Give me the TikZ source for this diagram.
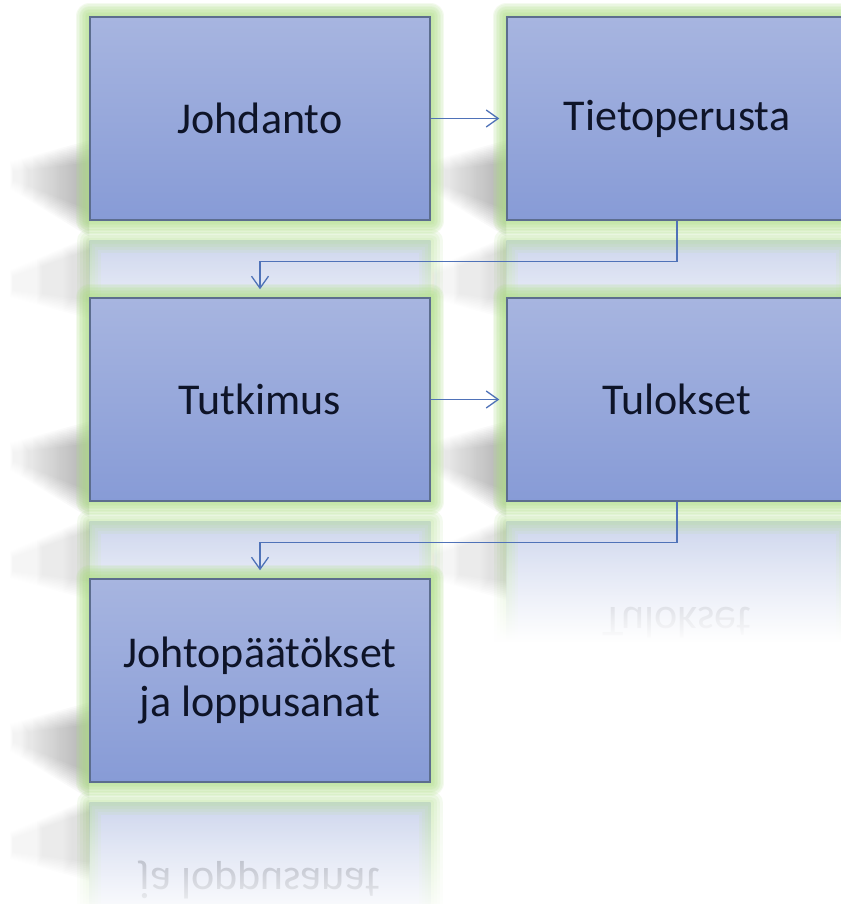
\documentclass[tikz,border=0pt]{standalone}
\usepackage{fontspec}
\setmainfont{Carlito}
\usetikzlibrary{arrows.meta,fadings,calc}

\definecolor{boxtop}{HTML}{A7B5E0}
\definecolor{boxbot}{HTML}{879BD6}
\definecolor{boxline}{HTML}{5C6D8E}
\definecolor{glowgreen}{HTML}{B0E088}
\definecolor{linkblue}{HTML}{4F72B8}
\definecolor{ink}{HTML}{0E1428}

% white veil that grows opaque towards the bottom
\tikzfading[name=reflfade, top color=transparent!100, bottom color=transparent!0]

\pgfdeclarelayer{bg}
\pgfdeclarelayer{refl}
\pgfdeclarelayer{shadow}
\pgfdeclarelayer{glowl}
\pgfsetlayers{bg,refl,shadow,glowl,main}

\tikzset{
  boxtext/.style={font=\fontsize{44}{49}\selectfont, text=ink, align=center},
  stepbox/.style={boxtext, rectangle, minimum width=340pt, minimum height=203pt,
    inner sep=0pt, top color=boxtop, bottom color=boxbot, draw=boxline, line width=1.4pt},
  mirrortext/.style={boxtext, opacity=0.42, yscale=-1, transform shape},
  flowlink/.style={draw=linkblue, line width=1.3pt, -{Straight Barb[length=12pt,width=17pt]}},
}

% soft green halo around a box
\newcommand\glowring[1]{%
  \foreach \w in {27,24,21,18,15,12,9,6,3}{%
    \draw[glowgreen, line width=\w pt, opacity=0.135, line join=round]
      (#1.south west) rectangle (#1.north east);}}

% perspective cast shadow to the left of a box, plus its faint mirror image
\newcommand\castshade[1]{%
  \foreach \k in {0,...,11}{%
    \shade[left color=white, right color=black, opacity=0.028]
      ($(#1.north west)+(0,{124+2*\k})$) -- ($(#1.north west)+(-80,{146+0.9*\k})$)
      -- ($(#1.north west)+(-80,{172-0.9*\k})$) -- ($(#1.south west)+(0,{16-2.4*\k})$) -- cycle;}
  \foreach \k in {0,...,9}{%
    \shade[left color=white, right color=black, opacity=0.013]
      ($(#1.south west)+(0,{16+1.4*\k})$) -- ($(#1.south west)+(-80,{50+0.8*\k})$)
      -- ($(#1.south west)+(-80,{76-0.8*\k})$) -- ($(#1.south west)+(0,{98-2*\k})$) -- cycle;}}

% mirrored copy of a box below it, fading out; #2 draws the mirrored label
\newcommand\mirrorbox[2]{%
  \shade[top color=boxbot, bottom color=boxtop, opacity=0.45]
    ($(#1.south west)+(0,20)$) rectangle ($(#1.south east)+(0,223)$);
  \foreach \w in {24,18,12,6}{%
    \draw[glowgreen, line width=\w pt, opacity=0.14, line join=round]
      ($(#1.south west)+(0,20)$) rectangle ($(#1.south east)+(0,223)$);}
  #2
  \fill[white, path fading=reflfade]
    ($(#1.south west)+(-16,8)$) rectangle ($(#1.south east)+(16,140)$);
  \fill[white] ($(#1.south west)+(-16,140)$) rectangle ($(#1.south east)+(16,245)$);}

\begin{document}
\begin{tikzpicture}[x=1pt, y=-1pt]
  \useasboundingbox (0,0) rectangle (840,904);

  % the five steps
  \node[stepbox] (j)  at (260,118.5) {Johdanto};
  \node[stepbox] (t)  at (677,118.5) {Tietoperusta};
  \node[stepbox] (tu) at (260,399.5) {Tutkimus};
  \node[stepbox] (tl) at (677,399.5) {Tulokset};
  \node[stepbox] (jl) at (260,680.5) {Johtopäätökset\\ja loppusanat};

  % anchor points of the mirrored labels
  \coordinate (tl-mir) at ($(tl.center)+(0,223)$);
  \coordinate (jl-mir) at ($(jl.south)+(0,86)$);

  \begin{pgfonlayer}{bg}
    \fill[white] (0,0) rectangle (840,904);
  \end{pgfonlayer}

  \begin{pgfonlayer}{refl}
    \mirrorbox{j}{}
    \mirrorbox{t}{}
    \mirrorbox{tu}{}
    \mirrorbox{tl}{\node[mirrortext, opacity=0.34] at (tl-mir) {Tulokset};}
    \mirrorbox{jl}{\node[mirrortext, anchor=base] at (jl-mir) {ja loppusanat};}
  \end{pgfonlayer}

  \begin{pgfonlayer}{shadow}
    \castshade{j}\castshade{t}\castshade{tu}\castshade{tl}\castshade{jl}
  \end{pgfonlayer}

  \begin{pgfonlayer}{glowl}
    \glowring{j}\glowring{t}\glowring{tu}\glowring{tl}\glowring{jl}
  \end{pgfonlayer}

  % connectors
  \draw[flowlink, shorten >=7pt] (j.east) -- (t.west);
  \draw[flowlink, shorten >=8pt] (t.south) -- ++(0,41) -| (tu.north);
  \draw[flowlink, shorten >=7pt] (tu.east) -- (tl.west);
  \draw[flowlink, shorten >=8pt] (tl.south) -- ++(0,41) -| (jl.north);
\end{tikzpicture}
\end{document}
